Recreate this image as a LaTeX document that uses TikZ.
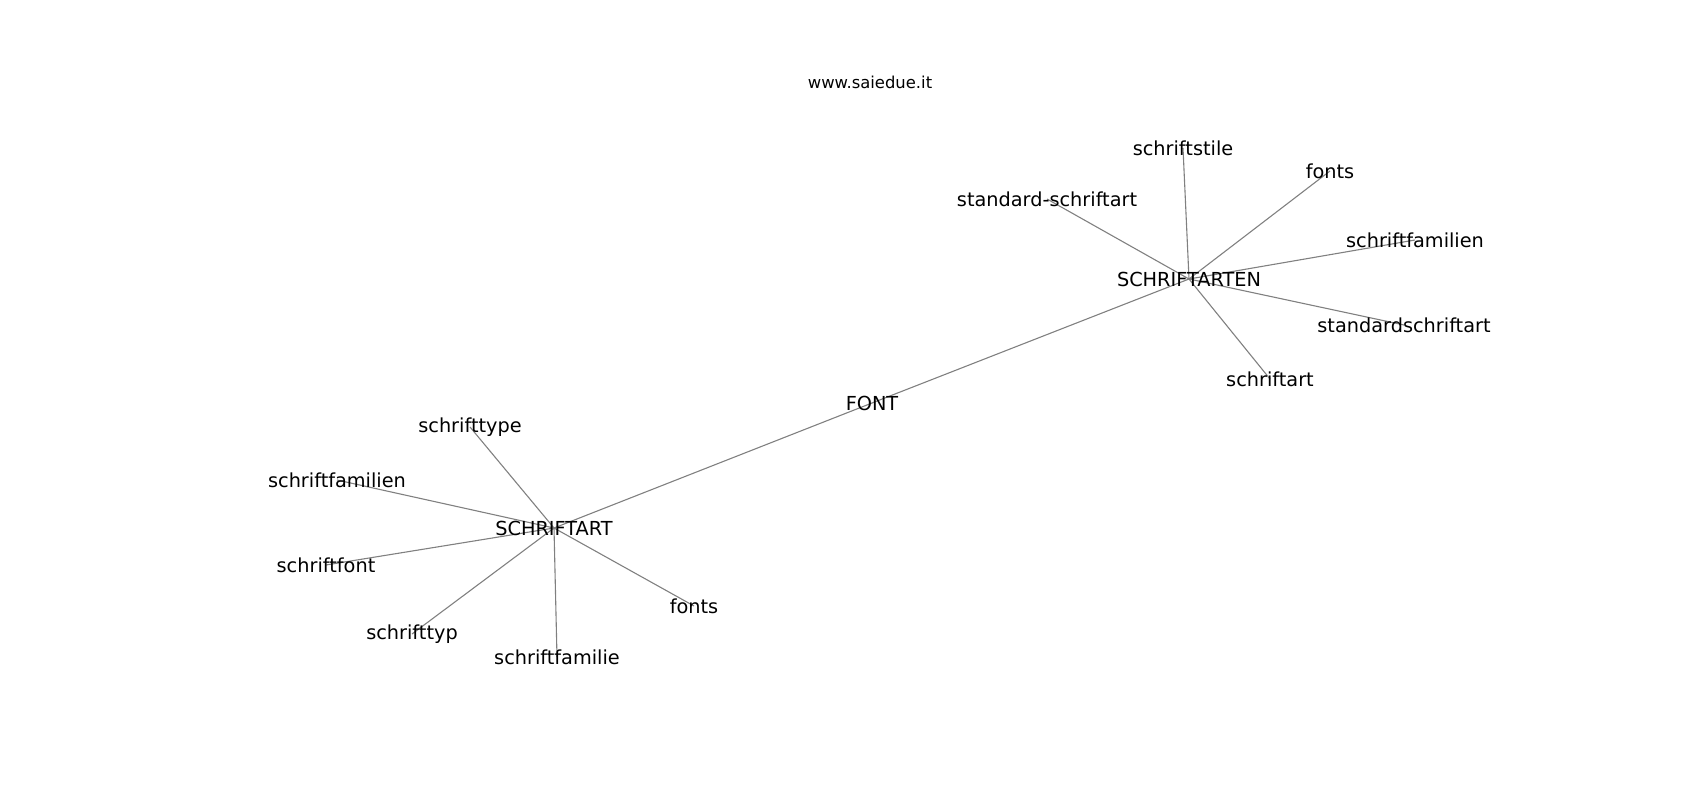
\documentclass[tikz,border=0pt]{standalone}
\usepackage{fontspec}
\setmainfont{DejaVu Sans}
\usetikzlibrary{backgrounds}

\begin{document}
\begin{tikzpicture}[x=1pt, y=-1pt]

  % Define styles
  \tikzstyle{word} = [inner sep=0pt, font=\fontsize{19.3}{23}\selectfont]
  \tikzstyle{heading} = [inner sep=0pt, font=\fontsize{16.4}{19}\selectfont]
  \tikzstyle{edge} = [draw, gray, line width=1.1pt]

  \useasboundingbox (0, 0) rectangle (1700, 800);

  % Title
  \node[heading] (title) at (870, 82) {www.saiedue.it};

  % Centre
  \node[word] (font) at (872, 403) {FONT};

  % SCHRIFTARTEN group
  \node[word] (arten) at (1189, 279) {SCHRIFTARTEN};
  \node[word] (stile) at (1183, 148) {schriftstile};
  \node[word] (fontsA) at (1330, 171) {fonts};
  \node[word] (stdA) at (1047, 199) {standard-schriftart};
  \node[word] (famA) at (1415, 240) {schriftfamilien};
  \node[word] (stdB) at (1404, 325) {standardschriftart};
  \node[word] (artA) at (1270, 379) {schriftart};

  % SCHRIFTART group
  \node[word] (art) at (554, 528) {SCHRIFTART};
  \node[word] (typeB) at (470, 427) {schrifttype};
  \node[word] (famB) at (337, 480) {schriftfamilien};
  \node[word] (fontB) at (326, 565) {schriftfont};
  \node[word] (typB) at (412, 634) {schrifttyp};
  \node[word] (famC) at (557, 657) {schriftfamilie};
  \node[word] (fontsB) at (694, 606) {fonts};

  % Connections
  \begin{scope}[on background layer]
    \draw[edge] (art.center) -- (font.center);
    \draw[edge] (font.center) -- (arten.center);

    \draw[edge] (arten.center) -- (stile.center);
    \draw[edge] (arten.center) -- (fontsA.center);
    \draw[edge] (arten.center) -- (stdA.center);
    \draw[edge] (arten.center) -- (famA.center);
    \draw[edge] (arten.center) -- (stdB.center);
    \draw[edge] (arten.center) -- (artA.center);

    \draw[edge] (art.center) -- (typeB.center);
    \draw[edge] (art.center) -- (famB.center);
    \draw[edge] (art.center) -- (fontB.center);
    \draw[edge] (art.center) -- (typB.center);
    \draw[edge] (art.center) -- (famC.center);
    \draw[edge] (art.center) -- (fontsB.center);
  \end{scope}

\end{tikzpicture}
\end{document}
